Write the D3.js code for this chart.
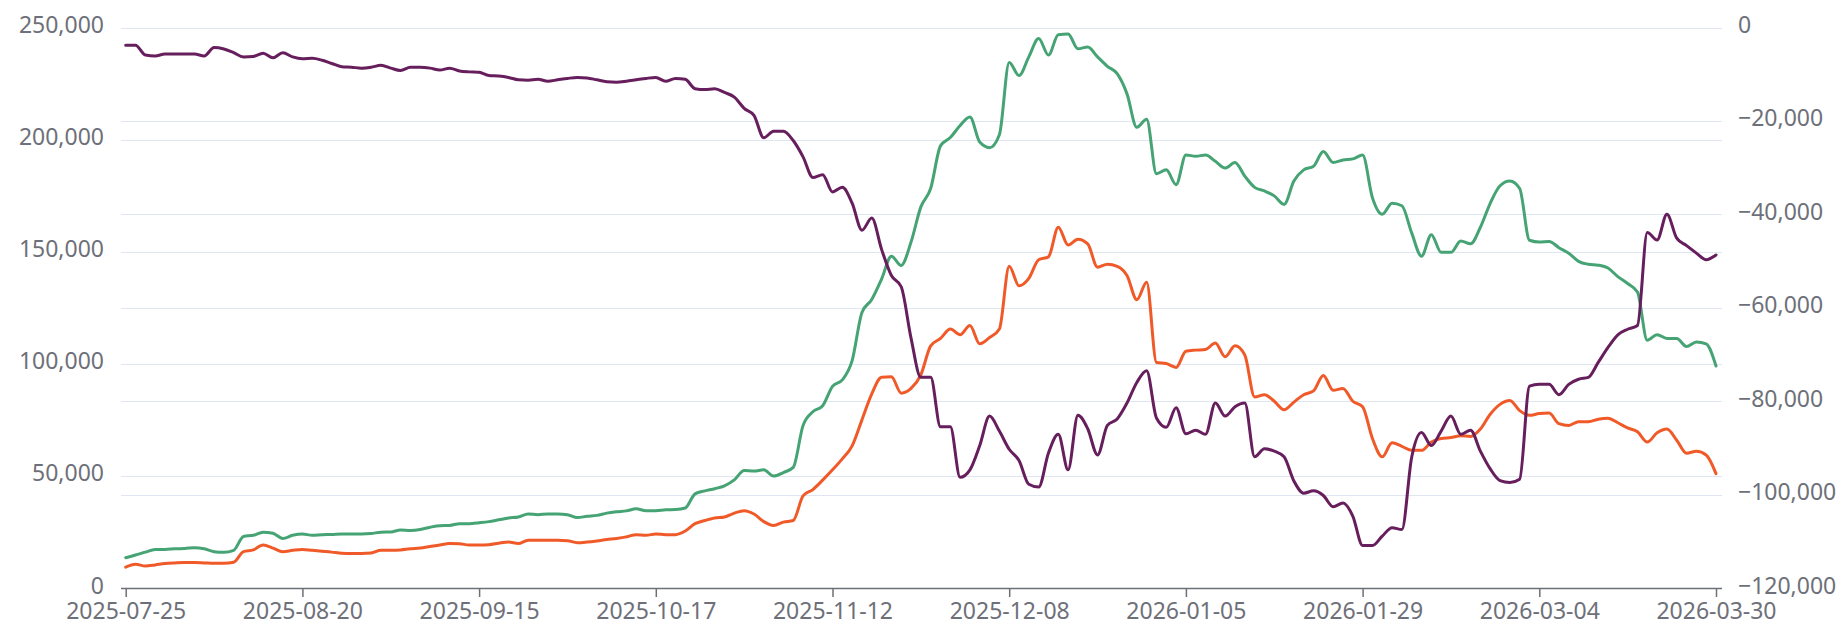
<!DOCTYPE html>
<html><head><meta charset="utf-8">
<script src="https://cdn.jsdelivr.net/npm/d3@7"></script>
<style>html,body{margin:0;padding:0;background:#fff;}svg{display:block;}</style>
</head><body>
<svg id="chart" width="1845" height="627"></svg>
<script>
// Categories: trading days
const dates = [
"2025-07-25","2025-07-28","2025-07-29","2025-07-30","2025-07-31",
"2025-08-01","2025-08-04","2025-08-05","2025-08-06","2025-08-07","2025-08-08",
"2025-08-11","2025-08-12","2025-08-13","2025-08-14","2025-08-15",
"2025-08-18","2025-08-19","2025-08-20","2025-08-21","2025-08-22",
"2025-08-25","2025-08-26","2025-08-27","2025-08-28","2025-08-29",
"2025-09-01","2025-09-02","2025-09-03","2025-09-04","2025-09-05",
"2025-09-08","2025-09-09","2025-09-10","2025-09-11","2025-09-12",
"2025-09-15","2025-09-16","2025-09-17","2025-09-18","2025-09-19",
"2025-09-22","2025-09-23","2025-09-24","2025-09-25","2025-09-26",
"2025-09-29","2025-09-30",
"2025-10-09","2025-10-10",
"2025-10-13","2025-10-14","2025-10-15","2025-10-16","2025-10-17",
"2025-10-20","2025-10-21","2025-10-22","2025-10-23","2025-10-24",
"2025-10-27","2025-10-28","2025-10-29","2025-10-30","2025-10-31",
"2025-11-03","2025-11-04","2025-11-05","2025-11-06","2025-11-07",
"2025-11-10","2025-11-11","2025-11-12","2025-11-13","2025-11-14",
"2025-11-17","2025-11-18","2025-11-19","2025-11-20","2025-11-21",
"2025-11-24","2025-11-25","2025-11-26","2025-11-27","2025-11-28",
"2025-12-01","2025-12-02","2025-12-03","2025-12-04","2025-12-05",
"2025-12-08","2025-12-09","2025-12-10","2025-12-11","2025-12-12",
"2025-12-15","2025-12-16","2025-12-17","2025-12-18","2025-12-19",
"2025-12-22","2025-12-23","2025-12-24","2025-12-25","2025-12-26",
"2025-12-29","2025-12-30","2025-12-31",
"2026-01-05","2026-01-06","2026-01-07","2026-01-08","2026-01-09",
"2026-01-12","2026-01-13","2026-01-14","2026-01-15","2026-01-16",
"2026-01-19","2026-01-20","2026-01-21","2026-01-22","2026-01-23",
"2026-01-26","2026-01-27","2026-01-28","2026-01-29","2026-01-30",
"2026-02-02","2026-02-03","2026-02-04","2026-02-05","2026-02-06",
"2026-02-09","2026-02-10","2026-02-11","2026-02-12","2026-02-13",
"2026-02-24","2026-02-25","2026-02-26","2026-02-27",
"2026-03-02","2026-03-03","2026-03-04","2026-03-05","2026-03-06",
"2026-03-09","2026-03-10","2026-03-11","2026-03-12","2026-03-13",
"2026-03-16","2026-03-17","2026-03-18","2026-03-19","2026-03-20",
"2026-03-23","2026-03-24","2026-03-25","2026-03-26","2026-03-27",
"2026-03-30"];

const tickLabels = ["2025-07-25","2025-08-20","2025-09-15","2025-10-17","2025-11-12",
  "2025-12-08","2026-01-05","2026-01-29","2026-03-04","2026-03-30"];
const leftTicks = [0,50000,100000,150000,200000,250000];
const rightTicks = [-120000,-100000,-80000,-60000,-40000,-20000,0];

// Series on left axis
const greenSeries = [
13500,14700,16000,17200,17200,17500,17600,18000,17500,16200,
15900,16800,23000,23500,24900,24400,22100,23500,24100,23500,
23800,23900,24100,24100,24100,24300,24900,25000,25900,25700,
26100,27100,27800,27900,28700,28700,29100,29600,30400,31200,
31700,33000,32700,33000,33000,32700,31400,32000,32400,33400,
34000,34400,35300,34500,34500,34900,35000,35700,42000,43300,
44300,45600,48200,52400,52200,52700,49900,51500,53800,72500,
78600,81300,89900,92800,101400,122900,128700,137800,148000,143900,
154300,170000,178200,197200,200900,206300,210100,198900,196400,202200,
234400,228600,236900,245100,237700,246800,247100,240500,241300,236900,
232700,229400,220400,205500,209100,184800,186500,179900,193100,192600,
193100,190300,187300,189800,183700,178700,177100,174900,171100,181500,
186500,188100,194700,189800,190900,191400,193100,174100,166700,171600,
170500,158400,148000,157600,149700,149700,154800,153500,160900,171600,
179400,181500,178200,155100,154300,154600,151800,149300,145700,144400,
144000,142700,138900,135800,132000,110500,113000,111300,111300,107700,
109700,108900,99000];

const orangeSeries = [
9300,10600,9800,10300,10900,11200,11400,11400,11200,11000,
11000,11500,16200,17000,19200,17800,16200,16800,17200,16800,
16400,16000,15500,15400,15400,15600,16800,16800,17000,17500,
17800,18500,19200,19800,19700,19200,19200,19300,20000,20500,
19800,21300,21300,21300,21300,21100,20200,20500,21000,21600,
22100,22800,23800,23500,24100,23800,23800,25400,28700,30100,
31200,31700,33400,34500,33000,29600,27900,29400,30100,41100,
43900,48100,52700,57600,63400,75000,86600,94000,94200,86900,
89000,95100,108000,111300,115500,113000,117100,108900,111700,115500,
143500,134800,138100,146400,147700,160900,153000,155600,153500,143100,
144400,143500,139400,128600,136400,100600,100100,98400,105600,106100,
106400,109300,103100,108000,103900,85200,86200,83300,79500,82900,
86200,87900,94800,88200,89000,83300,80800,66700,58500,64800,
63200,61400,61400,65100,66700,67100,67900,67600,70900,77500,
81900,83600,79100,77000,77800,78000,73300,72500,74200,74200,
75300,75700,73700,71400,69700,65100,69200,70900,65900,60100,
61000,59300,51000];

// Series on right axis
const purpleSeries = [
-3800,-3800,-5900,-6100,-5700,-5700,-5700,-5700,-6100,-4300,
-4600,-5400,-6300,-6200,-5500,-6500,-5400,-6300,-6700,-6600,
-7000,-7700,-8400,-8500,-8700,-8500,-8100,-8700,-9200,-8500,
-8500,-8700,-9100,-8700,-9300,-9500,-9600,-10300,-10400,-10700,
-11200,-11300,-11100,-11500,-11200,-10900,-10700,-10800,-11200,-11600,
-11700,-11500,-11200,-10900,-10700,-11500,-10900,-11100,-13100,-13300,
-13100,-13900,-14900,-17300,-18800,-23600,-22200,-22200,-24200,-27700,
-32100,-31500,-35200,-34200,-37600,-43400,-40800,-47500,-53100,-55500,
-66500,-74900,-74900,-85500,-85500,-96300,-94700,-89500,-83200,-86400,
-90300,-92700,-97800,-98400,-91100,-87100,-94700,-83000,-85900,-91500,
-85200,-83800,-80400,-76000,-73500,-83600,-85600,-81400,-87000,-86200,
-87100,-80400,-83200,-81200,-80400,-91900,-90200,-90700,-91900,-97100,
-99700,-99200,-100200,-102600,-101800,-104600,-110900,-110900,-108900,-107100,
-107500,-92000,-86700,-89500,-86400,-83200,-87100,-86200,-90700,-94500,
-97000,-97400,-96700,-76800,-76400,-76400,-78600,-76400,-75300,-74900,
-71700,-68500,-65800,-64600,-63800,-43900,-45500,-40000,-45100,-46700,
-48300,-49700,-48700];

const svg = d3.select("#chart");
const FONT = "'Noto Sans', 'Open Sans', sans-serif";
const FS = 23;
const GRID_L = 121, GRID_R = 1722, TOP = 27.5, BOTTOM = 588;

const x = d3.scalePoint().domain(dates).range([125.7, 1716]);
const yL = d3.scaleLinear().domain([0, 250000]).range([BOTTOM, TOP]);
const yR = d3.scaleLinear().domain([-120000, 0]).range([BOTTOM, TOP]);

// grid lines
const grid = svg.append("g");
grid.selectAll("line.gl").data(leftTicks).join("line")
  .attr("x1", GRID_L).attr("x2", GRID_R)
  .attr("y1", d => Math.round(yL(d)) + 0.5).attr("y2", d => Math.round(yL(d)) + 0.5)
  .attr("stroke", "#E0E6F1").attr("stroke-width", 1);
grid.selectAll("line.gr").data(rightTicks).join("line")
  .attr("x1", GRID_L).attr("x2", GRID_R)
  .attr("y1", d => Math.round(yR(d)) + 0.5).attr("y2", d => Math.round(yR(d)) + 0.5)
  .attr("stroke", "#E0E6F1").attr("stroke-width", 1);

// lines
const mk = (series, scale) => d3.line()
  .x((d, i) => x(dates[i]))
  .y(d => scale(d))
  .curve(d3.curveMonotoneX)(series);

const lines = [
  {s: greenSeries, sc: yL, c: "#45a374"},
  {s: orangeSeries, sc: yL, c: "#f05a28"},
  {s: purpleSeries, sc: yR, c: "#661e5c"}
];
svg.append("g").selectAll("path").data(lines).join("path")
  .attr("d", d => mk(d.s, d.sc))
  .attr("fill", "none")
  .attr("stroke", d => d.c)
  .attr("stroke-width", 3)
  .attr("stroke-linejoin", "round")
  .attr("stroke-linecap", "round");

// x axis
svg.append("line").attr("x1", GRID_L).attr("x2", GRID_R)
  .attr("y1", BOTTOM + 0.5).attr("y2", BOTTOM + 0.5)
  .attr("stroke", "#6E7079").attr("stroke-width", 1.5);
const xAxis = svg.append("g").attr("transform", `translate(0,${BOTTOM})`)
  .call(d3.axisBottom(x).tickValues(tickLabels).tickSize(9).tickSizeOuter(0).tickPadding(6));
xAxis.select(".domain").remove();
xAxis.selectAll(".tick line").attr("stroke", "#6E7079").attr("stroke-width", 1.5);
xAxis.selectAll(".tick text").attr("fill", "#6E7079").attr("font-family", FONT)
  .attr("font-size", FS).attr("dy", null).attr("y", 31);

// left axis
const fmt = d3.format(",");
const lAxis = svg.append("g").attr("transform", "translate(112,0)")
  .call(d3.axisLeft(yL).tickValues(leftTicks).tickSize(0).tickPadding(8).tickFormat(fmt));
lAxis.select(".domain").remove();
lAxis.selectAll(".tick text").attr("fill", "#6E7079").attr("font-family", FONT)
  .attr("font-size", FS).attr("dy", "0.22em");

// right axis
const rAxis = svg.append("g").attr("transform", "translate(1730,0)")
  .call(d3.axisRight(yR).tickValues(rightTicks).tickSize(0).tickPadding(8).tickFormat(fmt));
rAxis.select(".domain").remove();
rAxis.selectAll(".tick text").attr("fill", "#6E7079").attr("font-family", FONT)
  .attr("font-size", FS).attr("dy", "0.22em");
</script>
</body></html>
